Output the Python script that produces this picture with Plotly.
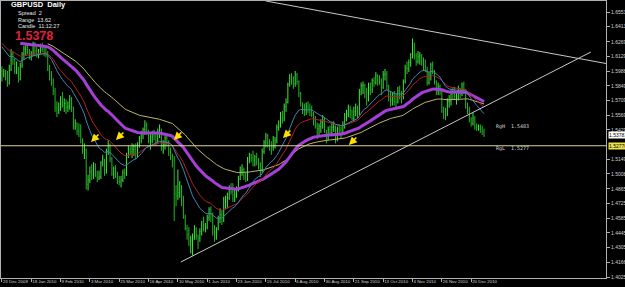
import plotly.graph_objects as go

# ---------------- data ----------------
tick_bars = [0, 16, 32, 48, 64, 80, 96, 112, 128, 144, 160, 176, 192, 208, 224, 240, 256]
tick_dates = ["23 Dec 2009", "18 Jan 2010", "9 Feb 2010", "3 Mar 2010", "25 Mar 2010",
              "16 Apr 2010", "10 May 2010", "1 Jun 2010", "23 Jun 2010", "15 Jul 2010",
              "6 Aug 2010", "30 Aug 2010", "21 Sep 2010", "13 Oct 2010", "4 Nov 2010",
              "26 Nov 2010", "20 Dec 2010"]
price_ticks = [1.65530, 1.64130, 1.62690, 1.61290, 1.59880, 1.58490, 1.57090, 1.55690,
               1.54290, 1.51490, 1.50080, 1.48650, 1.47250, 1.45850, 1.44450,
               1.43050, 1.41660, 1.40250]

highs = [
    1.6035, 1.6010, 1.6000, 1.5990, 1.6050, 1.6200,
    1.6180, 1.6110, 1.6080, 1.6030, 1.6070,
    1.6170, 1.6230, 1.6260, 1.6250, 1.6200,
    1.6180, 1.6270, 1.6265, 1.6220, 1.6200,
    1.6250, 1.6260, 1.6240, 1.6230, 1.6180,
    1.6050, 1.5990, 1.5920, 1.5830, 1.5700,
    1.5690, 1.5750, 1.5790, 1.5730, 1.5720,
    1.5700, 1.5760, 1.5740, 1.5650, 1.5530,
    1.5500, 1.5490, 1.5480, 1.5350, 1.5300,
    1.5250, 1.5000, 1.5080, 1.5100, 1.5120,
    1.5110, 1.5040, 1.5040, 1.5130, 1.5190,
    1.5150, 1.5250, 1.5330, 1.5300, 1.5170,
    1.5080, 1.5090, 1.5030, 1.4990, 1.4990,
    1.5050, 1.5060, 1.5210, 1.5280, 1.5270,
    1.5300, 1.5290, 1.5300, 1.5310, 1.5370,
    1.5420, 1.5450, 1.5520, 1.5500, 1.5430,
    1.5400, 1.5420, 1.5430, 1.5400, 1.5440,
    1.5480, 1.5440, 1.5330, 1.5370, 1.5390,
    1.5330, 1.5260, 1.5200, 1.5180, 1.4900,
    1.5050, 1.4940, 1.4900, 1.4800, 1.4620,
    1.4520, 1.4500, 1.4420, 1.4440, 1.4520,
    1.4500, 1.4430, 1.4490, 1.4560, 1.4600,
    1.4540, 1.4620, 1.4690, 1.4700, 1.4640,
    1.4520, 1.4500, 1.4610, 1.4680, 1.4660,
    1.4790, 1.4800, 1.4830, 1.4900, 1.4920,
    1.4920, 1.4870, 1.4890, 1.4990, 1.5080,
    1.5100, 1.5070, 1.5020, 1.5170, 1.5210,
    1.5200, 1.5230, 1.5190, 1.5210, 1.5160,
    1.5120, 1.5250, 1.5330, 1.5400, 1.5390,
    1.5340, 1.5320, 1.5370, 1.5360, 1.5480,
    1.5520, 1.5600, 1.5610, 1.5680, 1.5730,
    1.5880, 1.5960, 1.5970, 1.5940, 1.5990,
    1.5970, 1.5900, 1.5790, 1.5690, 1.5680,
    1.5690, 1.5700, 1.5680, 1.5660, 1.5600,
    1.5560, 1.5500, 1.5490, 1.5530, 1.5570,
    1.5550, 1.5430, 1.5460, 1.5470, 1.5500,
    1.5510, 1.5470, 1.5460, 1.5480, 1.5460,
    1.5510, 1.5590, 1.5620, 1.5670, 1.5660,
    1.5620, 1.5650, 1.5680, 1.5660, 1.5820,
    1.5880, 1.5890, 1.5870, 1.5830, 1.5880,
    1.5880, 1.5920, 1.5930, 1.5980, 1.5960,
    1.5950, 1.5920, 1.5990, 1.6010, 1.5990,
    1.5860, 1.5790, 1.5790, 1.5800, 1.5770,
    1.5840, 1.5850, 1.5800, 1.5910, 1.6050,
    1.6080, 1.6100, 1.6160, 1.6300, 1.6260,
    1.6160, 1.6180, 1.6170, 1.6150, 1.6120,
    1.6100, 1.6030, 1.5980, 1.6070, 1.6080,
    1.6000, 1.5900, 1.5880, 1.5860, 1.5800,
    1.5650, 1.5640, 1.5730, 1.5760, 1.5820,
    1.5830, 1.5840, 1.5800, 1.5850, 1.5830,
    1.5880, 1.5890, 1.5820, 1.5690, 1.5650,
    1.5550, 1.5590, 1.5560, 1.5490, 1.5480,
    1.5480, 1.5470, 1.5440]

lows = [
    1.5890, 1.5930, 1.5900, 1.5840, 1.5860, 1.5990,
    1.6050, 1.5960, 1.5960, 1.5880, 1.5900,
    1.6020, 1.6100, 1.6140, 1.6150, 1.6100,
    1.6090, 1.6130, 1.6140, 1.6120, 1.6110,
    1.6150, 1.6170, 1.6130, 1.6120, 1.5990,
    1.5900, 1.5850, 1.5760, 1.5600, 1.5550,
    1.5580, 1.5610, 1.5640, 1.5600, 1.5580,
    1.5600, 1.5620, 1.5600, 1.5430, 1.5430,
    1.5380, 1.5360, 1.5300, 1.5200, 1.5150,
    1.4860, 1.4850, 1.4920, 1.4950, 1.4960,
    1.4980, 1.4930, 1.4950, 1.4960, 1.5080,
    1.4990, 1.5010, 1.5190, 1.5120, 1.4990,
    1.4960, 1.4970, 1.4910, 1.4900, 1.4880,
    1.4930, 1.4960, 1.4990, 1.5160, 1.5190,
    1.5160, 1.5180, 1.5150, 1.5170, 1.5260,
    1.5300, 1.5340, 1.5380, 1.5380, 1.5300,
    1.5240, 1.5300, 1.5330, 1.5280, 1.5310,
    1.5350, 1.5230, 1.5200, 1.5240, 1.5270,
    1.5180, 1.5140, 1.5070, 1.4560, 1.4700,
    1.4760, 1.4780, 1.4700, 1.4580, 1.4470,
    1.4380, 1.4320, 1.4250, 1.4230, 1.4380,
    1.4380, 1.4290, 1.4360, 1.4420, 1.4460,
    1.4450, 1.4480, 1.4560, 1.4550, 1.4420,
    1.4360, 1.4380, 1.4470, 1.4540, 1.4520,
    1.4550, 1.4670, 1.4680, 1.4760, 1.4810,
    1.4740, 1.4740, 1.4780, 1.4840, 1.4950,
    1.4990, 1.4950, 1.4930, 1.4940, 1.5110,
    1.5120, 1.5080, 1.5080, 1.5090, 1.5050,
    1.4980, 1.5020, 1.5200, 1.5260, 1.5260,
    1.5230, 1.5190, 1.5230, 1.5250, 1.5300,
    1.5420, 1.5450, 1.5490, 1.5510, 1.5600,
    1.5680, 1.5840, 1.5860, 1.5820, 1.5840,
    1.5860, 1.5740, 1.5650, 1.5580, 1.5560,
    1.5570, 1.5590, 1.5560, 1.5550, 1.5470,
    1.5440, 1.5340, 1.5370, 1.5400, 1.5440,
    1.5400, 1.5300, 1.5330, 1.5370, 1.5370,
    1.5410, 1.5300, 1.5320, 1.5380, 1.5350,
    1.5390, 1.5440, 1.5510, 1.5550, 1.5540,
    1.5520, 1.5510, 1.5560, 1.5540, 1.5570,
    1.5760, 1.5770, 1.5730, 1.5660, 1.5700,
    1.5760, 1.5780, 1.5840, 1.5860, 1.5850,
    1.5860, 1.5760, 1.5820, 1.5900, 1.5810,
    1.5700, 1.5650, 1.5660, 1.5660, 1.5640,
    1.5680, 1.5720, 1.5680, 1.5720, 1.5870,
    1.5960, 1.5980, 1.6030, 1.6110, 1.6100,
    1.6040, 1.6060, 1.6050, 1.6040, 1.5990,
    1.5980, 1.5850, 1.5860, 1.5900, 1.5960,
    1.5860, 1.5760, 1.5760, 1.5760, 1.5590,
    1.5530, 1.5520, 1.5560, 1.5640, 1.5660,
    1.5720, 1.5720, 1.5670, 1.5710, 1.5730,
    1.5750, 1.5770, 1.5630, 1.5580, 1.5500,
    1.5460, 1.5470, 1.5430, 1.5420, 1.5420,
    1.5400, 1.5380, 1.5360]

closes = [
    1.5960, 1.5985, 1.5920, 1.5870, 1.6000, 1.6150,
    1.6100, 1.5990, 1.6010, 1.5910, 1.6040,
    1.6150, 1.6200, 1.6240, 1.6180, 1.6130,
    1.6150, 1.6250, 1.6180, 1.6150, 1.6180,
    1.6220, 1.6200, 1.6160, 1.6150, 1.6010,
    1.5950, 1.5880, 1.5800, 1.5640, 1.5620,
    1.5640, 1.5720, 1.5660, 1.5680, 1.5640,
    1.5650, 1.5720, 1.5640, 1.5460, 1.5490,
    1.5420, 1.5400, 1.5330, 1.5230, 1.5240,
    1.4910, 1.4950, 1.5030, 1.4990, 1.5060,
    1.5020, 1.4970, 1.4980, 1.5110, 1.5150,
    1.5030, 1.5220, 1.5280, 1.5150, 1.5000,
    1.5060, 1.4990, 1.4940, 1.4930, 1.4950,
    1.5020, 1.5000, 1.5180, 1.5240, 1.5220,
    1.5240, 1.5270, 1.5200, 1.5290, 1.5350,
    1.5400, 1.5430, 1.5470, 1.5410, 1.5330,
    1.5360, 1.5390, 1.5370, 1.5330, 1.5400,
    1.5420, 1.5270, 1.5290, 1.5350, 1.5300,
    1.5240, 1.5170, 1.5130, 1.4820, 1.4800,
    1.4830, 1.4900, 1.4760, 1.4600, 1.4490,
    1.4430, 1.4360, 1.4370, 1.4410, 1.4480,
    1.4420, 1.4400, 1.4460, 1.4520, 1.4490,
    1.4500, 1.4590, 1.4670, 1.4620, 1.4450,
    1.4450, 1.4480, 1.4580, 1.4620, 1.4560,
    1.4760, 1.4780, 1.4780, 1.4880, 1.4840,
    1.4770, 1.4800, 1.4850, 1.4960, 1.5040,
    1.5050, 1.4990, 1.4950, 1.5150, 1.5180,
    1.5160, 1.5140, 1.5170, 1.5120, 1.5090,
    1.5040, 1.5220, 1.5310, 1.5370, 1.5300,
    1.5290, 1.5260, 1.5270, 1.5330, 1.5450,
    1.5500, 1.5570, 1.5540, 1.5650, 1.5690,
    1.5860, 1.5930, 1.5920, 1.5870, 1.5950,
    1.5890, 1.5780, 1.5680, 1.5620, 1.5610,
    1.5650, 1.5640, 1.5600, 1.5580, 1.5510,
    1.5470, 1.5440, 1.5460, 1.5500, 1.5530,
    1.5420, 1.5350, 1.5430, 1.5400, 1.5450,
    1.5460, 1.5330, 1.5440, 1.5420, 1.5400,
    1.5480, 1.5570, 1.5580, 1.5620, 1.5600,
    1.5540, 1.5600, 1.5640, 1.5580, 1.5790,
    1.5850, 1.5850, 1.5790, 1.5720, 1.5860,
    1.5810, 1.5900, 1.5880, 1.5940, 1.5910,
    1.5890, 1.5830, 1.5960, 1.5960, 1.5850,
    1.5730, 1.5680, 1.5770, 1.5700, 1.5690,
    1.5800, 1.5760, 1.5740, 1.5890, 1.6020,
    1.6010, 1.6070, 1.6150, 1.6250, 1.6140,
    1.6080, 1.6130, 1.6140, 1.6080, 1.6030,
    1.6000, 1.5880, 1.5940, 1.6050, 1.5990,
    1.5880, 1.5790, 1.5840, 1.5790, 1.5610,
    1.5600, 1.5580, 1.5700, 1.5700, 1.5790,
    1.5780, 1.5750, 1.5780, 1.5810, 1.5770,
    1.5860, 1.5800, 1.5650, 1.5620, 1.5530,
    1.5490, 1.5540, 1.5460, 1.5450, 1.5460,
    1.5440, 1.5410, 1.5378]
first_open = 1.5985

# moving averages: (period, first bar shown, value at that bar, colour, width)
ma_specs = [
    (90, 25, 1.6250, "#bdb76b", 1.0),
    (60, 10, 1.6255, "#a63fd8", 3.0),
    (30, 0, 1.6255, "#b22222", 1.0),
    (20, 0, 1.6220, "#4682b4", 1.0),
]

# drawn objects
trend_up_bars = [97.6, 321.3]
trend_up_prices = [1.4168, 1.6171]
trend_down_bars = [144.0, 331.0]
trend_down_prices = [1.6658, 1.6057]
level_price = 1.5277
range_high = 1.5483
range_low = 1.5277
bid_price = 1.53781
arrow_bars = [48.6, 62.2, 93.8, 153.3, 189.3]
arrow_prices = [1.5313, 1.5332, 1.5332, 1.5351, 1.5284]

# ---------------- build ----------------
n = len(closes)
idx = list(range(n))
opens = [first_open] + closes[:-1]


def ema(values, period, start, seed):
    out = [None] * len(values)
    a = 2.0 / (period + 1)
    v = seed
    out[start] = v
    for i in range(start + 1, len(values)):
        v = v + a * (values[i] - v)
        out[i] = v
    return out


fig = go.Figure()

fig.add_trace(go.Ohlc(
    x=idx, open=opens, high=highs, low=lows, close=closes,
    increasing=dict(line=dict(color="#3fe83f", width=1)),
    decreasing=dict(line=dict(color="#22b822", width=1)),
    tickwidth=0.2, hoverinfo="skip", showlegend=False))

for period, start, seed, col, w in ma_specs:
    fig.add_trace(go.Scatter(x=idx, y=ema(closes, period, start, seed), mode="lines",
                             line=dict(color=col, width=w), hoverinfo="skip",
                             showlegend=False))

fig.add_trace(go.Scatter(x=trend_up_bars, y=trend_up_prices, mode="lines",
                         line=dict(color="#c8c8c8", width=1), showlegend=False))
fig.add_trace(go.Scatter(x=trend_down_bars, y=trend_down_prices, mode="lines",
                         line=dict(color="#c8c8c8", width=1), showlegend=False))
fig.add_trace(go.Scatter(x=[-5, 340], y=[level_price, level_price], mode="lines",
                         line=dict(color="#d8d49a", width=1), showlegend=False))

XMIN, XMAX = -0.5, 329.56
YMIN, YMAX = 1.40155, 1.66579
L, T, W, H = 1, 1, 605, 277


def px(x):
    return (x - L) / W


def py(y):
    return 1 - (y - T) / H


ann = []
font_s = "Liberation Sans, Arial, sans-serif"
ann.append(dict(xref="paper", yref="paper", x=px(9), y=py(5), xanchor="left", yanchor="middle",
                text="<b>GBPUSD  Daily</b>", showarrow=False,
                font=dict(family=font_s, size=7.5, color="#ffffff")))
for label, yy in [("Spread  2", 13), ("Range  13.62", 19.5), ("Candle  11:12:27", 25.5)]:
    ann.append(dict(xref="paper", yref="paper", x=px(16), y=py(yy), xanchor="left",
                    yanchor="middle", text=label, showarrow=False,
                    font=dict(family=font_s, size=5.5, color="#e8e8e8")))
ann.append(dict(xref="paper", yref="paper", x=px(13), y=py(35.5), xanchor="left",
                yanchor="middle", text="<b>1.5378</b>", showarrow=False,
                font=dict(family=font_s, size=12.5, color="#e0203c")))

ann.append(dict(x=268.5, y=range_high, xanchor="left", yanchor="middle", yshift=-2,
                text="RgH  %.4f" % range_high, showarrow=False,
                font=dict(family="DejaVu Sans Mono, monospace", size=5, color="#d8d8d8")))
ann.append(dict(x=268.5, y=range_low, xanchor="left", yanchor="middle", yshift=-3,
                text="RgL  %.4f" % range_low, showarrow=False,
                font=dict(family="DejaVu Sans Mono, monospace", size=5, color="#d8d8d8")))

for bx, bp in zip(arrow_bars, arrow_prices):
    ann.append(dict(x=bx, y=bp, ax=9, ay=-9, text="", showarrow=True, arrowhead=2,
                    arrowsize=1.0, arrowwidth=1.6, arrowcolor="#ffe000"))

ann.append(dict(xref="paper", x=1.0, xanchor="left", xshift=2, y=bid_price, yref="y",
                text="%.5f" % bid_price, showarrow=False, bgcolor="#ffffff", borderpad=0,
                font=dict(family=font_s, size=5, color="#000000")))
ann.append(dict(xref="paper", x=1.0, xanchor="left", xshift=2, y=level_price, yref="y",
                text="%.5f" % level_price, showarrow=False, bgcolor="#ece44a", borderpad=0,
                font=dict(family=font_s, size=5, color="#000000")))

fig.update_layout(
    width=625, height=287,
    margin=dict(l=L, r=625 - L - W, t=T, b=287 - T - H, autoexpand=False),
    paper_bgcolor="#000000", plot_bgcolor="#000000",
    showlegend=False, annotations=ann,
    xaxis=dict(range=[XMIN, XMAX], tickvals=tick_bars, ticktext=tick_dates,
               ticklabelposition="outside right", ticks="outside", ticklen=3,
               tickangle=0, ticklabelstandoff=-1,
               tickcolor="#b0b0b0", tickfont=dict(family=font_s, size=4.4, color="#d0d0d0"),
               showgrid=False, zeroline=False, showline=True, linecolor="#b0b0b0",
               linewidth=1, mirror=True, rangeslider=dict(visible=False), automargin=False),
    yaxis=dict(range=[YMIN, YMAX], side="right", tickvals=price_ticks,
               ticktext=["%.5f" % v for v in price_ticks], ticks="outside", ticklen=3,
               tickcolor="#b0b0b0", tickfont=dict(family=font_s, size=5, color="#d0d0d0"),
               showgrid=False, zeroline=False, showline=True, linecolor="#b0b0b0",
               linewidth=1, mirror=True, automargin=False),
)

fig.write_html("out.html")
